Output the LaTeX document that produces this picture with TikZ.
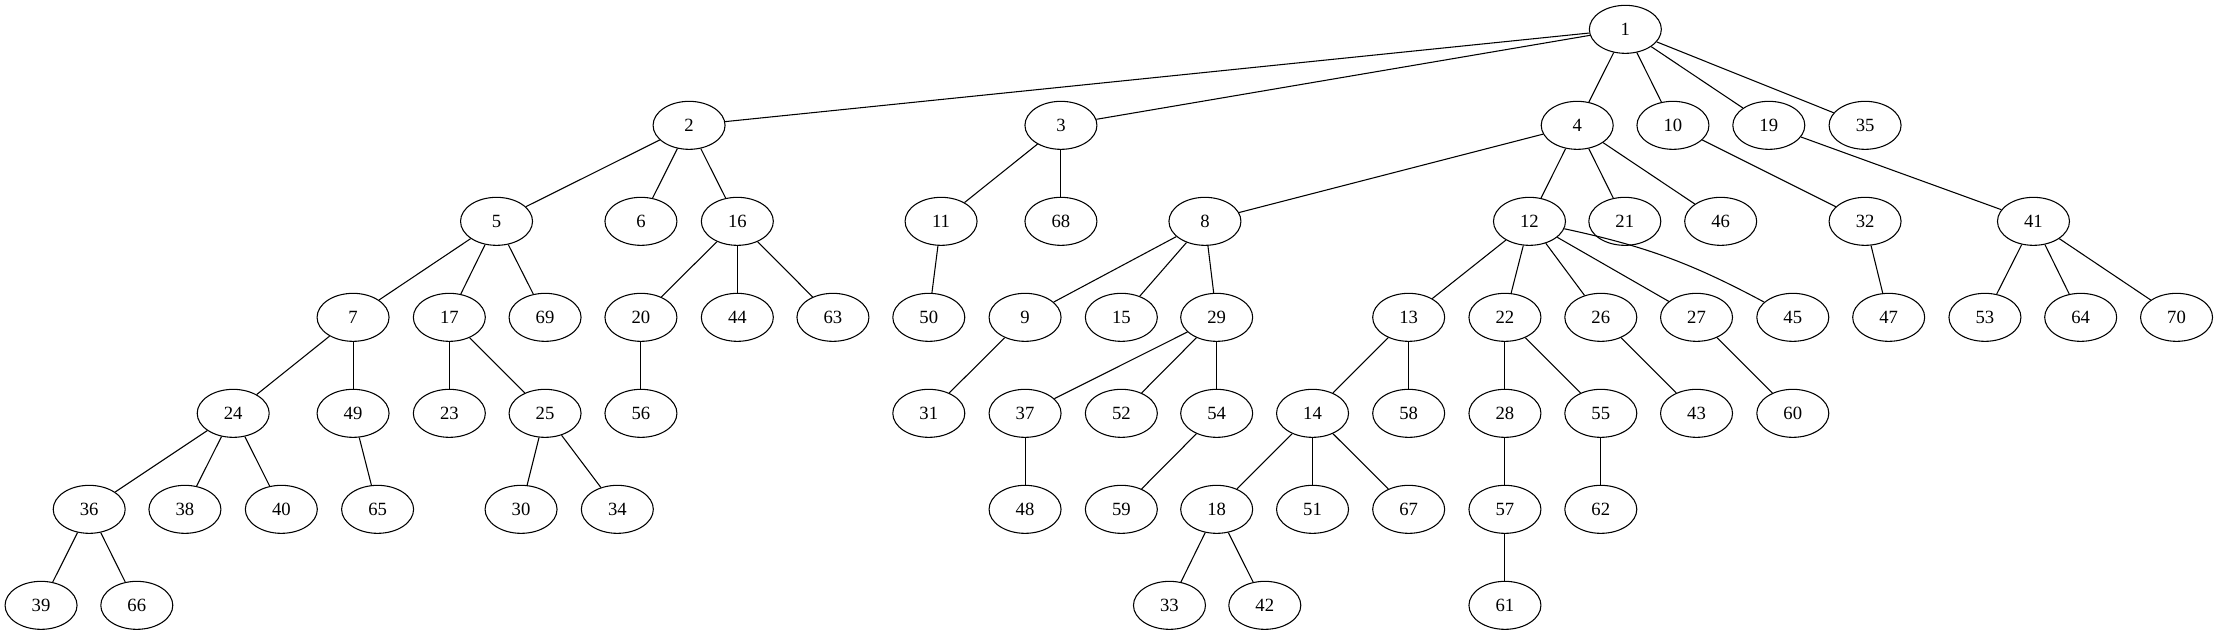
\documentclass[tikz,border=0pt]{standalone}
\usepackage{fontspec}
\setmainfont{Liberation Serif}
\usepackage{tikz}
\usetikzlibrary{shapes.geometric}

\tikzset{
  vtx/.style={draw, ellipse, minimum width=54pt, minimum height=36pt,
    inner sep=0pt, line width=0.8pt, font=\fontsize{14}{16}\selectfont},
  link/.style={line width=0.8pt}
}

\begin{document}
\begin{tikzpicture}[x=1pt, y=-1pt]
        \useasboundingbox (0,0) rectangle (1664.25,476);

        % level 0
        \node[vtx] (n1) at (1219,22) {1};

        % level 1
        \node[vtx] (n2) at (516.8,94) {2};
        \node[vtx] (n3) at (795.7,94) {3};
        \node[vtx] (n4) at (1182.9,94) {4};
        \node[vtx] (n10) at (1254.7,94) {10};
        \node[vtx] (n19) at (1326.6,94) {19};
        \node[vtx] (n35) at (1398.8,94) {35};

        % level 2
        \node[vtx] (n5) at (372.4,166) {5};
        \node[vtx] (n6) at (480.7,166) {6};
        \node[vtx] (n16) at (553,166) {16};
        \node[vtx] (n11) at (705.8,166) {11};
        \node[vtx] (n68) at (795.7,166) {68};
        \node[vtx] (n8) at (903.7,166) {8};
        \node[vtx] (n12) at (1147.1,166) {12};
        \node[vtx] (n21) at (1218.6,166) {21};
        \node[vtx] (n46) at (1290.5,166) {46};
        \node[vtx] (n32) at (1398.8,166) {32};
        \node[vtx] (n41) at (1525.1,166) {41};

        % level 3
        \node[vtx] (n7) at (264.8,238) {7};
        \node[vtx] (n17) at (337,238) {17};
        \node[vtx] (n69) at (408.8,238) {69};
        \node[vtx] (n20) at (480.7,238) {20};
        \node[vtx] (n44) at (553,238) {44};
        \node[vtx] (n63) at (624.7,238) {63};
        \node[vtx] (n50) at (696.6,238) {50};
        \node[vtx] (n9) at (768.8,238) {9};
        \node[vtx] (n15) at (841,238) {15};
        \node[vtx] (n29) at (912.5,238) {29};
        \node[vtx] (n13) at (1056.5,238) {13};
        \node[vtx] (n22) at (1128.7,238) {22};
        \node[vtx] (n26) at (1200.6,238) {26};
        \node[vtx] (n27) at (1272.4,238) {27};
        \node[vtx] (n45) at (1344.6,238) {45};
        \node[vtx] (n47) at (1416.5,238) {47};
        \node[vtx] (n53) at (1488.7,238) {53};
        \node[vtx] (n64) at (1560.5,238) {64};
        \node[vtx] (n70) at (1632.4,238) {70};

        % level 4
        \node[vtx] (n24) at (174.9,310) {24};
        \node[vtx] (n49) at (264.8,310) {49};
        \node[vtx] (n23) at (337,310) {23};
        \node[vtx] (n25) at (408.8,310) {25};
        \node[vtx] (n56) at (480.7,310) {56};
        \node[vtx] (n31) at (696.6,310) {31};
        \node[vtx] (n37) at (768.8,310) {37};
        \node[vtx] (n52) at (841,310) {52};
        \node[vtx] (n54) at (912.5,310) {54};
        \node[vtx] (n14) at (984.4,310) {14};
        \node[vtx] (n58) at (1056.5,310) {58};
        \node[vtx] (n28) at (1128.7,310) {28};
        \node[vtx] (n55) at (1200.6,310) {55};
        \node[vtx] (n43) at (1272.4,310) {43};
        \node[vtx] (n60) at (1344.6,310) {60};

        % level 5
        \node[vtx] (n36) at (66.9,382) {36};
        \node[vtx] (n38) at (138.7,382) {38};
        \node[vtx] (n40) at (211,382) {40};
        \node[vtx] (n65) at (283.2,382) {65};
        \node[vtx] (n30) at (390.8,382) {30};
        \node[vtx] (n34) at (463,382) {34};
        \node[vtx] (n48) at (768.8,382) {48};
        \node[vtx] (n59) at (841,382) {59};
        \node[vtx] (n18) at (912.5,382) {18};
        \node[vtx] (n51) at (984.4,382) {51};
        \node[vtx] (n67) at (1056.5,382) {67};
        \node[vtx] (n57) at (1128.7,382) {57};
        \node[vtx] (n62) at (1200.6,382) {62};

        % level 6
        \node[vtx] (n39) at (30.8,454) {39};
        \node[vtx] (n66) at (102.6,454) {66};
        \node[vtx] (n33) at (877.1,454) {33};
        \node[vtx] (n42) at (948.6,454) {42};
        \node[vtx] (n61) at (1128.7,454) {61};

        % edges
        \foreach \a/\b in {1/2,1/3,1/4,1/10,1/19,1/35,
                           2/5,2/6,2/16,3/11,3/68,4/8,4/12,4/21,4/46,
                           10/32,19/41,
                           5/7,5/17,5/69,16/20,16/44,16/63,11/50,
                           8/9,8/15,8/29,12/13,12/22,12/26,12/27,
                           32/47,41/53,41/64,41/70,
                           7/24,7/49,17/23,17/25,20/56,9/31,
                           29/37,29/52,29/54,13/14,13/58,22/28,22/55,
                           26/43,27/60,
                           24/36,24/38,24/40,49/65,25/30,25/34,
                           37/48,54/59,14/18,14/51,14/67,28/57,55/62,
                           36/39,36/66,18/33,18/42,57/61}
          \draw[link] (n\a) -- (n\b);
        \draw[link] (n12) to[bend left=8] (n45);

    \end{tikzpicture}
\end{document}
